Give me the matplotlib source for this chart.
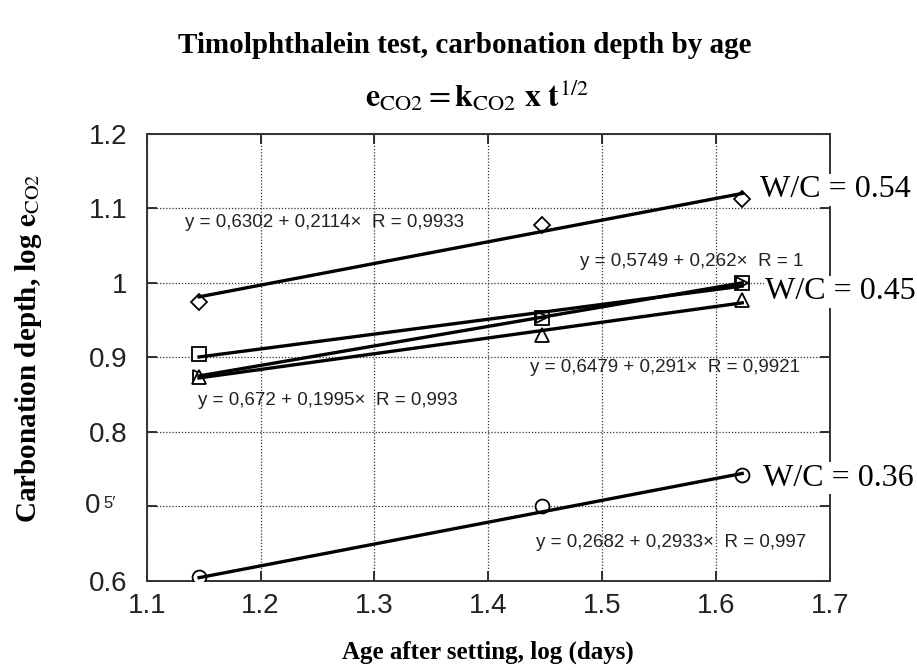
import matplotlib.pyplot as plt
import numpy as np

# log(age in days): 14, 28, 42 days
log_age = [1.146, 1.447, 1.623]

# measured points, log e_CO2
wc054_diamond = [0.975, 1.078, 1.113]
wc045_square = [0.904, 0.953, 1.000]
wc045_tri_right = [0.875, 0.954, 1.000]
wc045_tri_up = [0.874, 0.930, 0.977]
wc036_circle = [0.605, 0.700, 0.742]

# regression coefficients printed on the chart (intercept, slope)
fit_diamond = (0.6479, 0.291)
fit_square = (0.672, 0.1995)
fit_tri_right = (0.5749, 0.262)
fit_tri_up = (0.6302, 0.2114)
fit_circle = (0.2682, 0.2933)

yticks = [0.6, 0.7, 0.8, 0.9, 1.0, 1.1, 1.2]
ytick_labels = ["0.6", "", "0.8", "0.9", "1", "1.1", "1.2"]
xticks = [1.1, 1.2, 1.3, 1.4, 1.5, 1.6, 1.7]

fig = plt.figure(figsize=(9.17, 6.70), dpi=100)
ax = fig.add_axes([0.160, 0.133, 0.745, 0.667])

series = [
    (wc054_diamond, fit_diamond, "D", 8),
    (wc045_square, fit_square, "s", 10),
    (wc045_tri_right, fit_tri_right, ">", 9),
    (wc045_tri_up, fit_tri_up, "^", 10),
    (wc036_circle, fit_circle, "o", 10),
]

xl = np.array([log_age[0], log_age[-1]])
for ys, (a, b), mk, ms in series:
    ax.plot(log_age, ys, linestyle="none", marker=mk, ms=ms, mfc="white",
            mec="black", mew=1.3, zorder=3)
    ax.plot(xl, a + b * xl, color="black", lw=2.4, zorder=4)

# equation labels
eq_font = dict(fontsize=13.5, family="Liberation Sans", va="center", ha="left", color="#222222")
ax.text(1.1334, 1.081, "y = 0,6302 + 0,2114\u00d7  R = 0,9933", **eq_font)
ax.text(1.4805, 1.029, "y = 0,5749 + 0,262\u00d7  R = 1", **eq_font)
ax.text(1.1448, 0.842, "y = 0,672 + 0,1995\u00d7  R = 0,993", **eq_font)
ax.text(1.4366, 0.887, "y = 0,6479 + 0,291\u00d7  R = 0,9921", **eq_font)
ax.text(1.4418, 0.652, "y = 0,2682 + 0,2933\u00d7  R = 0,997", **eq_font)

wc_font = dict(fontsize=23, family="Liberation Serif", va="center", ha="left",
               bbox=dict(facecolor="white", edgecolor="none", pad=1), zorder=6,
               clip_on=False)
ax.text(1.639, 1.125, "W/C = 0.54", **wc_font)
ax.text(1.643, 0.988, "W/C = 0.45", **wc_font)
ax.text(1.641, 0.738, "W/C = 0.36", **wc_font)

ax.set_xlim(1.1, 1.7)
ax.set_ylim(0.6, 1.2)
ax.set_xticks(xticks)
ax.set_xticklabels([f"{v:g}" for v in xticks])
ax.set_yticks(yticks)
ax.set_yticklabels(ytick_labels)
for lab in ax.get_xticklabels() + ax.get_yticklabels():
    lab.set_family("Liberation Sans")
    lab.set_fontsize(20)
ax.tick_params(direction="in", length=7, width=1.3, top=True, right=True,
               pad=13.7, colors="#222222")
ax.tick_params(axis="x", pad=9)
ax.grid(True, linestyle=(0, (1, 1.5)), color="#333333", lw=0.9)
for sp in ax.spines.values():
    sp.set_linewidth(1.4)
    sp.set_color("#333333")

# odd tick label at 0.7
ax.annotate("0", xy=(0, 0.7), xycoords=("axes fraction", "data"), xytext=(-44.6, 0),
            textcoords="offset points", ha="left", va="center", fontsize=20,
            family="Liberation Sans", color="#222222")
ax.annotate("5\u2032", xy=(0, 0.7), xycoords=("axes fraction", "data"), xytext=(-31.5, 2),
            textcoords="offset points", ha="left", va="center", fontsize=12,
            family="Liberation Sans", color="#222222")

ax.set_xlabel("Age after setting, log (days)", family="Liberation Serif",
              fontweight="bold", fontsize=18, va="center")
ax.xaxis.set_label_coords(0.5, -0.159)
ax.set_ylabel(r"Carbonation depth, log $\mathbf{e}_{\mathrm{CO2}}$", family="Liberation Serif",
              fontweight="bold", fontsize=21, math_fontfamily="stix")
ax.yaxis.set_label_coords(-0.150, 0.52)

fig.text(0.507, 0.932, "Timolphthalein test, carbonation depth by age",
         family="Liberation Serif", fontweight="bold", fontsize=21, ha="center", va="center")
fig.text(0.520, 0.856, r"$\mathbf{e}_{\mathrm{CO2}} = \mathbf{k}_{\mathrm{CO2}}\ \mathbf{x}\ \mathbf{t}^{1/2}$",
         fontsize=23, ha="center", va="center", math_fontfamily="stix")

fig.savefig("out.png", dpi=100)
